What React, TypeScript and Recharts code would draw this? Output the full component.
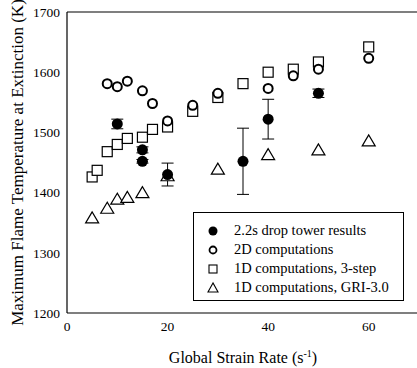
import { ScatterChart, Scatter, XAxis, YAxis, ErrorBar, Legend } from "recharts";

const font = "'Liberation Serif', 'Times New Roman', serif";

// drop tower experiments (with error bars)
const dropX = [10, 15, 15, 20, 35, 40, 50];
const dropY = [1514, 1471, 1452, 1430, 1452, 1522, 1565];
const dropErr = [8, 5, 3, 19, 55, 33, 7];

const comp2dX = [8, 10, 12, 15, 17, 20, 25, 30, 40, 45, 50, 60];
const comp2dY = [1581, 1576, 1585, 1569, 1548, 1519, 1545, 1565, 1573, 1594, 1605, 1623];

const step3X = [5, 6, 8, 10, 12, 15, 17, 20, 25, 30, 35, 40, 45, 50, 60];
const step3Y = [1426, 1437, 1468, 1480, 1490, 1492, 1505, 1509, 1535, 1558, 1581, 1600, 1605, 1617, 1642];

const griX = [5, 8, 10, 12, 15, 20, 30, 40, 50, 60];
const griY = [1358, 1374, 1389, 1392, 1400, 1428, 1439, 1463, 1471, 1486];

const legendNames = [
  "2.2s drop tower results",
  "2D computations",
  "1D computations, 3-step",
  "1D computations, GRI-3.0",
];

const xMajor = [0, 20, 40, 60];
const xMinor = [10, 30, 50, 70];
const yMajor = [1200, 1300, 1400, 1500, 1600, 1700];
const yMinor = [1250, 1350, 1450, 1550, 1650];

const toPts = (xs: number[], ys: number[], errs?: number[]) =>
  xs.map((x, i) => ({ x, y: ys[i], err: errs ? errs[i] : 0 }));

const dotFilled = (p: any) => <circle cx={p.cx} cy={p.cy} r={5.5} fill="#000" />;
const dotOpen = (p: any) => (
  <circle cx={p.cx} cy={p.cy} r={4.5} fill="#fff" stroke="#000" strokeWidth={2} />
);
const dotSquare = (p: any) => (
  <rect x={p.cx - 5} y={p.cy - 5} width={10} height={10} fill="#fff" stroke="#000" strokeWidth={1.2} />
);
const dotTri = (p: any) => (
  <polygon
    points={`${p.cx},${p.cy - 6} ${p.cx - 6.5},${p.cy + 5} ${p.cx + 6.5},${p.cy + 5}`}
    fill="#fff"
    stroke="#000"
    strokeWidth={1.2}
  />
);

const legendMarks = [
  <circle cx={8} cy={8} r={4.5} fill="#000" />,
  <circle cx={8} cy={8} r={3.5} fill="none" stroke="#000" strokeWidth={1.8} />,
  <rect x={4} y={4} width={8} height={8} fill="none" stroke="#000" strokeWidth={1.1} />,
  <polygon points="8,3 3,12 13,12" fill="none" stroke="#000" strokeWidth={1.1} />,
];

const LegendBox = () => (
  <div
    style={{
      border: "1px solid #000",
      background: "#fff",
      width: 211,
      height: 89,
      boxSizing: "border-box",
      padding: "8px 0 0 11px",
      fontFamily: font,
      fontSize: 14.5,
      color: "#000",
    }}
  >
    {legendNames.map((n, i) => (
      <div key={n} style={{ display: "flex", alignItems: "center", height: 19 }}>
        <svg width={16} height={16} style={{ marginRight: 13 }}>
          {legendMarks[i]}
        </svg>
        <span>{n}</span>
      </div>
    ))}
  </div>
);

const XTitle = (props: any) => {
  const vb = props.viewBox;
  return (
    <text x={vb.x + vb.width / 2} y={363} textAnchor="middle" fontFamily={font} fontSize={16} fill="#000">
      Global Strain Rate (s
      <tspan dy={-6} fontSize={10}>-1</tspan>
      <tspan dy={6}>)</tspan>
    </text>
  );
};

const tickStyle = { fontSize: 13.5, fill: "#000", fontFamily: font };
const line = { stroke: "#000", strokeWidth: 1.2 };

export default function App() {
  return (
    <div style={{ position: "absolute", left: 0, top: 0, width: 417, height: 368, overflow: "hidden", background: "#fff" }}>
      <ScatterChart width={419} height={368} margin={{ top: 12, right: 0, bottom: 25, left: 7 }}>
        <XAxis
          xAxisId="b"
          type="number"
          dataKey="x"
          domain={[0, 70]}
          ticks={xMajor}
          tickLine={false}
          tickSize={6}
          tickMargin={2}
          axisLine={line}
          height={30}
          tick={tickStyle}
          label={<XTitle />}
        />
        <XAxis xAxisId="bM" type="number" domain={[0, 70]} ticks={xMajor} mirror tick={false} tickSize={6} tickLine={line} axisLine={false} />
        <XAxis xAxisId="bm" type="number" domain={[0, 70]} ticks={xMinor} mirror tick={false} tickSize={3} tickLine={line} axisLine={false} />
        <XAxis xAxisId="tM" orientation="top" type="number" domain={[0, 70]} ticks={xMajor} mirror tick={false} tickSize={6} tickLine={line} axisLine={line} />
        <XAxis xAxisId="tm" orientation="top" type="number" domain={[0, 70]} ticks={xMinor} mirror tick={false} tickSize={3} tickLine={line} axisLine={false} />
        <YAxis
          yAxisId="l"
          type="number"
          dataKey="y"
          domain={[1200, 1700]}
          ticks={yMajor}
          tickLine={false}
          tickSize={5}
          tickMargin={2}
          axisLine={line}
          width={60}
          tick={tickStyle}
          label={{
            value: "Maximum Flame Temperature at Extinction (K)",
            angle: -90,
            position: "insideLeft",
            offset: 10,
            style: { textAnchor: "middle", fontSize: 17, fill: "#000", fontFamily: font },
          }}
        />
        <YAxis yAxisId="lM" type="number" domain={[1200, 1700]} ticks={yMajor} mirror tick={false} tickSize={6} tickLine={line} axisLine={false} />
        <YAxis yAxisId="lm" type="number" domain={[1200, 1700]} ticks={yMinor} mirror tick={false} tickSize={3} tickLine={line} axisLine={false} />
        <YAxis yAxisId="rM" orientation="right" type="number" domain={[1200, 1700]} ticks={yMajor} mirror tick={false} tickSize={6} tickLine={line} axisLine={false} />
        <YAxis yAxisId="rm" orientation="right" type="number" domain={[1200, 1700]} ticks={yMinor} mirror tick={false} tickSize={3} tickLine={line} axisLine={false} />
        <Legend
          layout="vertical"
          align="center"
          verticalAlign="middle"
          content={() => <LegendBox />}
          wrapperStyle={{ left: 193, top: 212, width: 211, height: 89 }}
        />
        <Scatter xAxisId="b" yAxisId="l" data={toPts(griX, griY)} shape={dotTri} isAnimationActive={false} />
        <Scatter xAxisId="b" yAxisId="l" data={toPts(step3X, step3Y)} shape={dotSquare} isAnimationActive={false} />
        <Scatter xAxisId="b" yAxisId="l" data={toPts(comp2dX, comp2dY)} shape={dotOpen} isAnimationActive={false} />
        <Scatter xAxisId="b" yAxisId="l" data={toPts(dropX, dropY, dropErr)} shape={dotFilled} isAnimationActive={false}>
          <ErrorBar dataKey="err" direction="y" width={6} stroke="#000" strokeWidth={1} />
        </Scatter>
      </ScatterChart>
    </div>
  );
}
